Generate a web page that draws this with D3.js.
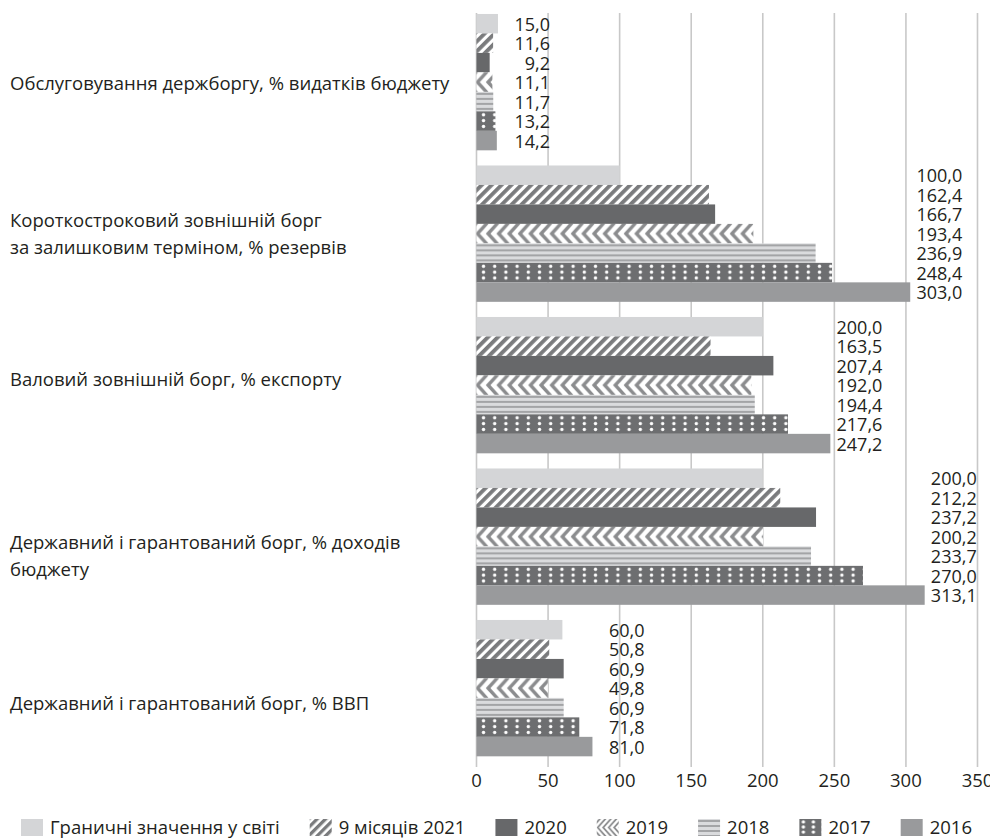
<!DOCTYPE html>
<html>
<head>
<meta charset="utf-8">
<script src="https://cdn.jsdelivr.net/npm/d3@7"></script>
<style>
  body { margin: 0; background: #fff; }
  svg { display: block; }
  text { font-family: "Open Sans", "Noto Sans", sans-serif; fill: #231f20; }
</style>
</head>
<body>
<svg id="chart" width="990" height="839"></svg>
<script>
// Debt indicators of Ukraine vs. world threshold values
const categories = [
  ["Обслуговування держборгу, % видатків бюджету"],
  ["Короткостроковий зовнішній борг", "за залишковим терміном, % резервів"],
  ["Валовий зовнішній борг, % експорту"],
  ["Державний і гарантований борг, % доходів", "бюджету"],
  ["Державний і гарантований борг, % ВВП"]
];
const seriesNames = ["Граничні значення у світі", "9 місяців 2021", "2020", "2019", "2018", "2017", "2016"];
const thresholdValues = [15.0, 100.0, 200.0, 200.0, 60.0];
const months9_2021 = [11.6, 162.4, 163.5, 212.2, 50.8];
const year2020 = [9.2, 166.7, 207.4, 237.2, 60.9];
const year2019 = [11.1, 193.4, 192.0, 200.2, 49.8];
const year2018 = [11.7, 236.9, 194.4, 233.7, 60.9];
const year2017 = [13.2, 248.4, 217.6, 270.0, 71.8];
const year2016 = [14.2, 303.0, 247.2, 313.1, 81.0];
const xTicks = [0, 50, 100, 150, 200, 250, 300, 350];

const seriesValues = [thresholdValues, months9_2021, year2020, year2019, year2018, year2017, year2016];
const fillTypes = ["light", "hatch", "dark", "chevron", "hstripe", "dots", "mid"];
// vertical nudge of each category caption relative to its group centre
const captionShift = [1, 0, -6, 19, 15];

const svg = d3.select("#chart");
const defs = svg.append("defs");

const x = d3.scaleLinear().domain([0, 350]).range([476.5, 977.5]);
const groupScale = d3.scaleBand()
  .domain(d3.range(categories.length))
  .range([6.4, 763.9])
  .paddingInner(0.1)
  .paddingOuter(0.05);
const barScale = d3.scaleBand()
  .domain(d3.range(seriesNames.length))
  .range([0, groupScale.bandwidth()]);

const fmt = v => d3.format(".1f")(v).replace(".", ",");

// Build a fill (solid colour or a pattern anchored to the shape's corner)
let patId = 0;
function fillFor(type, px, py, h, small) {
  const solid = { light: "#d4d5d7", dark: "#67686a", mid: "#999a9c" };
  if (solid[type]) return solid[type];
  const id = "pat" + (patId++);
  if (type === "hatch") {
    const s = small ? 6 : 7;
    const p = defs.append("pattern").attr("id", id)
      .attr("patternUnits", "userSpaceOnUse")
      .attr("x", px).attr("y", py)
      .attr("width", s).attr("height", s)
      .attr("patternTransform", "rotate(45)");
    p.append("rect").attr("width", s).attr("height", s).attr("fill", "#fff");
    p.append("rect").attr("width", s * 0.55).attr("height", s).attr("fill", "#7a7b7d");
  } else if (type === "chevron") {
    const w = small ? 5.5 : 10.6;
    const p = defs.append("pattern").attr("id", id)
      .attr("patternUnits", "userSpaceOnUse")
      .attr("x", px).attr("y", py)
      .attr("width", w).attr("height", h);
    p.append("rect").attr("width", w).attr("height", h).attr("fill", "#fff");
    [-2 * w, -w, 0, w].forEach(o => {
      p.append("path")
        .attr("d", `M${o + 1 + h / 2},${-1} L${o + 1},${h / 2} L${o + 1 + h / 2},${h + 1}`)
        .attr("fill", "none").attr("stroke", "#8b8c8e").attr("stroke-width", small ? 1.8 : 3.3);
    });
  } else if (type === "hstripe") {
    const p = defs.append("pattern").attr("id", id)
      .attr("patternUnits", "userSpaceOnUse")
      .attr("x", px).attr("y", py)
      .attr("width", 10).attr("height", 5);
    p.append("rect").attr("width", 10).attr("height", 5).attr("fill", "#dadbdd");
    p.append("rect").attr("y", 1).attr("width", 10).attr("height", 2).attr("fill", "#a3a4a6");
  } else if (type === "dots") {
    const w = small ? 10 : 11.2;
    const p = defs.append("pattern").attr("id", id)
      .attr("patternUnits", "userSpaceOnUse")
      .attr("x", px).attr("y", py)
      .attr("width", w).attr("height", h);
    p.append("rect").attr("width", w).attr("height", h).attr("fill", "#6d6e70");
    [0.17, 0.47, 0.77].forEach(f => {
      p.append("circle").attr("cx", small ? 4 : 7).attr("cy", h * f).attr("r", 1.7).attr("fill", "#fff");
    });
  }
  return `url(#${id})`;
}

// Vertical gridlines
svg.append("g").selectAll("line").data(xTicks).join("line")
  .attr("x1", d => x(d)).attr("x2", d => x(d))
  .attr("y1", 13).attr("y2", 767)
  .attr("stroke", "#c8c8c8").attr("stroke-width", 1.6);

// Bars
const groups = svg.append("g").selectAll("g").data(categories).join("g");
groups.each(function (cat, gi) {
  const g = d3.select(this);
  const y0 = groupScale(gi);
  const bh = barScale.bandwidth();
  seriesValues.forEach((vals, si) => {
    const by = y0 + barScale(si);
    g.append("rect")
      .attr("x", x(0)).attr("y", by)
      .attr("width", x(vals[gi]) - x(0))
      .attr("height", bh)
      .attr("fill", fillFor(fillTypes[si], x(0), by, bh, false));
  });
  // value labels, right-aligned in a column beside the longest bar
  const maxV = d3.max(seriesValues, v => v[gi]);
  const lx = x(maxV) + 52;
  seriesValues.forEach((vals, si) => {
    g.append("text")
      .attr("x", lx)
      .attr("y", y0 + barScale(si) + bh / 2 + 7)
      .attr("text-anchor", "end")
      .attr("font-size", 18)
      .text(fmt(vals[gi]));
  });
  // category caption
  const cy = y0 + groupScale.bandwidth() / 2 + captionShift[gi];
  const lh = 27.5;
  const t = g.append("text").attr("font-size", 18.5);
  cat.forEach((line, li) => {
    t.append("tspan")
      .attr("x", 10)
      .attr("y", cy + 7 + (li - (cat.length - 1) / 2) * lh)
      .text(line);
  });
});

// X axis labels
svg.append("g").selectAll("text").data(xTicks).join("text")
  .attr("x", d => x(d)).attr("y", 787)
  .attr("text-anchor", "middle")
  .attr("font-size", 18.5)
  .text(d => d);

// Legend
const legend = svg.append("g");
let lxPos = 21;
seriesNames.forEach((name, si) => {
  const sw = 22, sh = 17, sy = 819;
  legend.append("rect")
    .attr("x", lxPos).attr("y", sy).attr("width", sw).attr("height", sh)
    .attr("fill", fillFor(fillTypes[si], lxPos, sy, sh, true));
  const t = legend.append("text")
    .attr("x", lxPos + sw + 7).attr("y", 834)
    .attr("font-size", 18.5)
    .text(name);
  lxPos += sw + 7 + t.node().getComputedTextLength() + 30;
});
</script>
</body>
</html>
